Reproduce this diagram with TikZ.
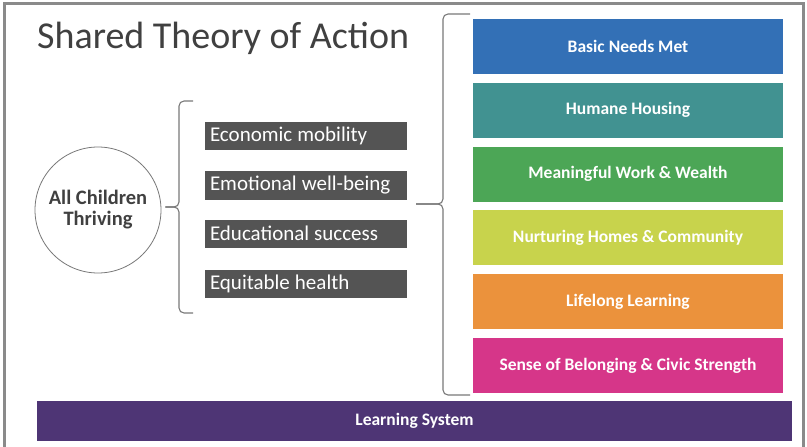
\documentclass[tikz,border=0pt]{standalone}
\usepackage{fontspec}
\setmainfont{Carlito}
\usepackage{tikz}
\usetikzlibrary{positioning,calc}
\usepackage{xcolor}
\definecolor{stframe}{RGB}{138,138,138}
\definecolor{sttext}{RGB}{64,64,64}
\definecolor{stdark}{RGB}{84,84,84}
\definecolor{stbrace}{RGB}{120,120,120}
\definecolor{stblue}{RGB}{51,112,182}
\definecolor{stteal}{RGB}{65,146,145}
\definecolor{stgreen}{RGB}{76,166,86}
\definecolor{stlime}{RGB}{200,211,76}
\definecolor{storange}{RGB}{235,146,60}
\definecolor{stpink}{RGB}{214,54,137}
\definecolor{stpurple}{RGB}{78,53,117}
\newcommand\sttight{\spaceskip=0.24em\relax}
\tikzset{
    outcome/.style={
        fill=stdark,draw=none,minimum width=202pt,minimum height=28pt,
        text width=192pt,align=left,inner sep=5pt,
        text=white,font=\fontsize{21}{22}\selectfont,
        execute at begin node=\sttight
    },
    pillar/.style={
        fill=#1,draw=none,minimum width=310pt,minimum height=55pt,
        align=center,text=white,font=\fontsize{17.5}{19}\selectfont\bfseries
    },
    pillar/.default=stblue,
    bracket/.style={
        draw=stbrace,line width=1.1pt,rounded corners=5pt
    }
}

\begin{document}
\begin{tikzpicture}[x=1pt,y=-1pt]
\useasboundingbox (0,0) rectangle (807,447);

\draw[stframe,line width=3pt] (4,450) -- (4,3) -- (803,3) -- (803,450);

\node[anchor=base west,text=sttext,font=\fontsize{38}{40}\selectfont,inner sep=0pt]
    (title) at (37,48) {Shared Theory of Action};

\node[circle,draw=stbrace,line width=0.8pt,minimum size=126pt,align=center,
    text=sttext,font=\fontsize{20.5}{21}\selectfont\bfseries]
    (kids) at (98,210) {All Children\\Thriving};

\node[outcome] (econ) at (306,135.5) {Economic mobility};
\node[outcome] (emot) at (306,185.5) {Emotional well-being};
\node[outcome] (educ) at (306,233.5) {Educational success};
\node[outcome] (heal) at (306,284) {Equitable health};

\foreach \name/\col/\txt [count=\i from 0] in {
    basic/stblue/Basic Needs Met,
    house/stteal/Humane Housing,
    work/stgreen/Meaningful Work \& Wealth,
    home/stlime/Nurturing Homes \& Community,
    learn/storange/Lifelong Learning,
    civic/stpink/Sense of Belonging \& Civic Strength}
    \node[pillar=\col] (\name) at (628,46.5+63.8*\i) {\txt};

\node[pillar=stpurple,minimum width=755pt,minimum height=40pt]
    (system) at (414.5,421) {Learning System};

% left brace
\coordinate (lcusp) at ($(kids.east)+(4,-3)$);
\draw[bracket] (193,101) -- (179,101) -- (179,207) -- (lcusp);
\draw[bracket] (lcusp) -- (179,207) -- (179,313) -- (193,313);

% right brace
\coordinate (rcusp) at (416,204);
\draw[bracket] (470,14) -- (443,14) -- (443,204) -- (rcusp);
\draw[bracket] (rcusp) -- (443,204) -- (443,395) -- (470,395);

\end{tikzpicture}
\end{document}
